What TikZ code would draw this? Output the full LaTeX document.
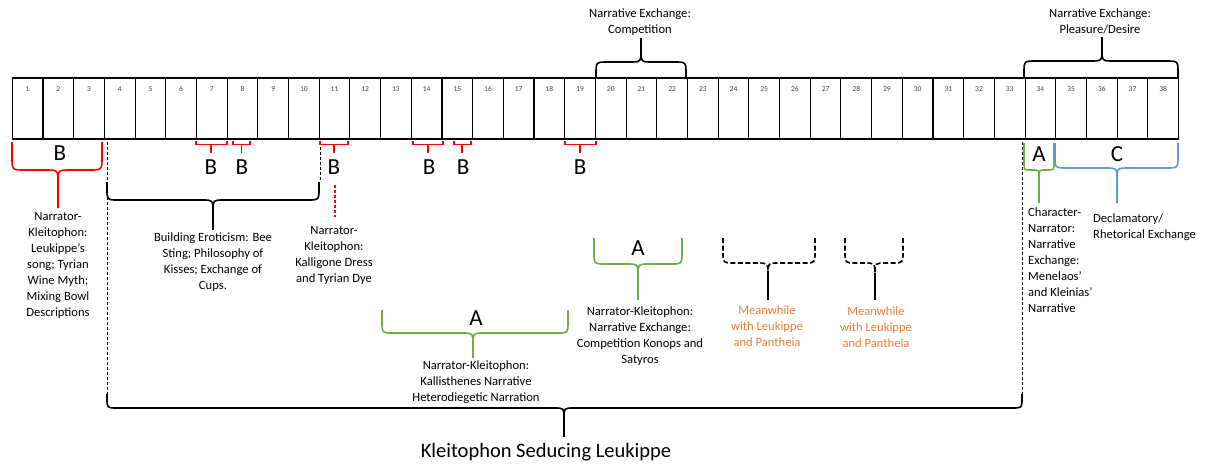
\documentclass[tikz,border=0pt]{standalone}
\usepackage{fontspec}
\setmainfont{Carlito}
\definecolor{brred}{HTML}{FF0000}
\definecolor{brgreen}{HTML}{70AD47}
\definecolor{brblue}{HTML}{5B9BD5}
\definecolor{txorange}{HTML}{ED7D31}

% curly brace: style, left x, tip x, right x, end y, bar y, stem end y, signed radius
\newcommand\bracedraw[8]{%
  \pgfmathsetmacro\rr{abs(#8)}%
  \draw[#1] (#2,#5) -- (#2,{#6-#8}) .. controls (#2,#6) .. ({#2+\rr},#6) -- ({#3-\rr},#6) .. controls (#3,#6) .. (#3,{#6+#8});
  \draw[#1] (#4,#5) -- (#4,{#6-#8}) .. controls (#4,#6) .. ({#4-\rr},#6) -- ({#3+\rr},#6) .. controls (#3,#6) .. (#3,{#6+#8});
  \draw[#1,solid] (#3,{#6+#8}) -- (#3,#7);
}
% small square bracket with a centre stem below a cell
\newcommand\minibracket[3]{%
  \draw[redbr,line width=1.5pt] (#1,141) -- (#1,144.5) -- (#3,144.5) -- (#3,141);
  \draw[redbr,line width=1.5pt] (#2,144.5) -- (#2,153);
}

\begin{document}
\begin{tikzpicture}[x=1pt,y=-1pt,
  cell/.style={minimum width=30.69pt,minimum height=61pt,inner sep=0pt,outer sep=0pt,anchor=north west},
  cellline/.style={line width=1.1pt,black},
  cellnum/.style={font=\fontsize{7.5}{8}\selectfont,text=black!75,inner sep=0pt},
  lbl/.style={font=\fontsize{12.6}{16}\selectfont,align=center,inner sep=0pt,anchor=north},
  lbll/.style={font=\fontsize{12.6}{16}\selectfont,align=left,inner sep=0pt,anchor=north west},
  big/.style={font=\fontsize{23}{23}\selectfont,inner sep=0pt},
  blkbr/.style={line width=1.6pt,draw=black},
  redbr/.style={line width=1.6pt,draw=brred},
  grnbr/.style={line width=1.6pt,draw=brgreen},
  blubr/.style={line width=1.6pt,draw=brblue},
  dashbr/.style={line width=1.6pt,draw=black,dash pattern=on 5pt off 2.5pt},
  dashline/.style={line width=0.8pt,draw=black,dash pattern=on 3pt off 2pt}]
\useasboundingbox (0,0) rectangle (1207,464);

% row of numbered cells
\foreach \i in {1,...,38}{
  \pgfmathsetmacro\xl{12.3+(\i-1)*30.69}
  \node[cell] (c\i) at (\xl,78) {};
  \node[cellnum] (n\i) at ([yshift=-11pt]c\i.north) {\i};
}
\draw[cellline] (c1.north west) rectangle (c38.south east);
\foreach \i in {1,...,37}{
  \draw[cellline] (c\i.north east) -- (c\i.south east);
}

% dashed guide lines
\draw[dashline] (107,142) -- (107,395);
\draw[dashline] (320,142) -- (320,180);
\draw[dashline] (1022,142) -- (1022,395);
\draw[line width=1.2pt,draw=brred,dash pattern=on 3pt off 2pt] (335,185) -- (335,217);

% top braces
\bracedraw{blkbr}{596}{641}{686}{78}{62}{38}{-12}
\bracedraw{blkbr}{1024}{1102}{1178}{78}{61}{37}{-12}
\node[lbl] (t1) at (640,9) {Narrative Exchange:\\Competition};
\node[lbl] (t2) at (1100,9) {Narrative Exchange:\\Pleasure/Desire};

% B sections
\bracedraw{redbr}{12}{58}{102}{142}{170}{208}{13}
\node[big] (b1) at (60,153) {B};
\minibracket{196}{211}{227}
\minibracket{233}{241.5}{250}
\minibracket{320}{334}{348}
\minibracket{413}{428}{443}
\minibracket{454}{462}{471}
\minibracket{565}{580}{596}
\node[big] (b2) at (211,167) {B};
\node[big] (b3) at (242,167) {B};
\node[big] (b4) at (334,167) {B};
\node[big] (b5) at (429,167) {B};
\node[big] (b6) at (463,167) {B};
\node[big] (b7) at (580,167) {B};

% black brace over cells 4-10
\bracedraw{blkbr}{107}{213}{319}{182}{200}{230}{11}

% green A braces
\bracedraw{grnbr}{382}{473}{568}{310}{333}{358}{11}
\node[big] (a1) at (476,318) {A};
\bracedraw{grnbr}{594}{638}{682}{238}{264}{300}{11}
\node[big] (a2) at (638,248) {A};
\bracedraw{grnbr}{1024}{1039}{1054}{143}{170}{203}{7}
\node[big] (a3) at (1039,154) {A};

% blue C brace
\bracedraw{blubr}{1055}{1117}{1178}{143}{168}{203}{12}
\node[big] (cc) at (1117,154) {C};

% dashed braces
\bracedraw{dashbr}{723}{768}{815}{238}{263}{300}{11}
\bracedraw{dashbr}{845}{875}{903}{238}{263}{300}{11}

% bottom brace
\bracedraw{blkbr}{107}{564}{1022}{394}{408}{437}{10}
\node[font=\fontsize{20.5}{22}\selectfont,inner sep=0pt] (main) at (546,452) {Kleitophon Seducing Leukippe};

% labels
\node[lbl] (l1) at (58,212.5) {Narrator-\\Kleitophon:\\Leukippe’s\\song; Tyrian\\Wine Myth;\\Mixing Bowl\\Descriptions};
\node[lbl] (l2) at (213,232.5) {Building Eroticism: Bee\\Sting; Philosophy of\\Kisses; Exchange of\\Cups.};
\node[lbl] (l3) at (334,226.5) {Narrator-\\Kleitophon:\\Kalligone Dress\\and Tyrian Dye};
\node[lbl] (l4) at (476,360.5) {Narrator-Kleitophon:\\Kallisthenes Narrative\\Heterodiegetic Narration};
\node[lbl] (l5) at (640,306.5) {Narrator-Kleitophon:\\Narrative Exchange:\\Competition Konops and\\Satyros};
\node[lbl,text=txorange] (l6) at (767,305.5) {Meanwhile\\with Leukippe\\and Pantheia};
\node[lbl,text=txorange] (l7) at (876,306.5) {Meanwhile\\with Leukippe\\and Pantheia};
\node[lbll] (l8) at (1028,207.5) {Character-\\Narrator:\\Narrative\\Exchange:\\Menelaos’\\and Kleinias’\\Narrative};
\node[lbll] (l9) at (1093,213.5) {Declamatory/\\Rhetorical Exchange};
\end{tikzpicture}
\end{document}
